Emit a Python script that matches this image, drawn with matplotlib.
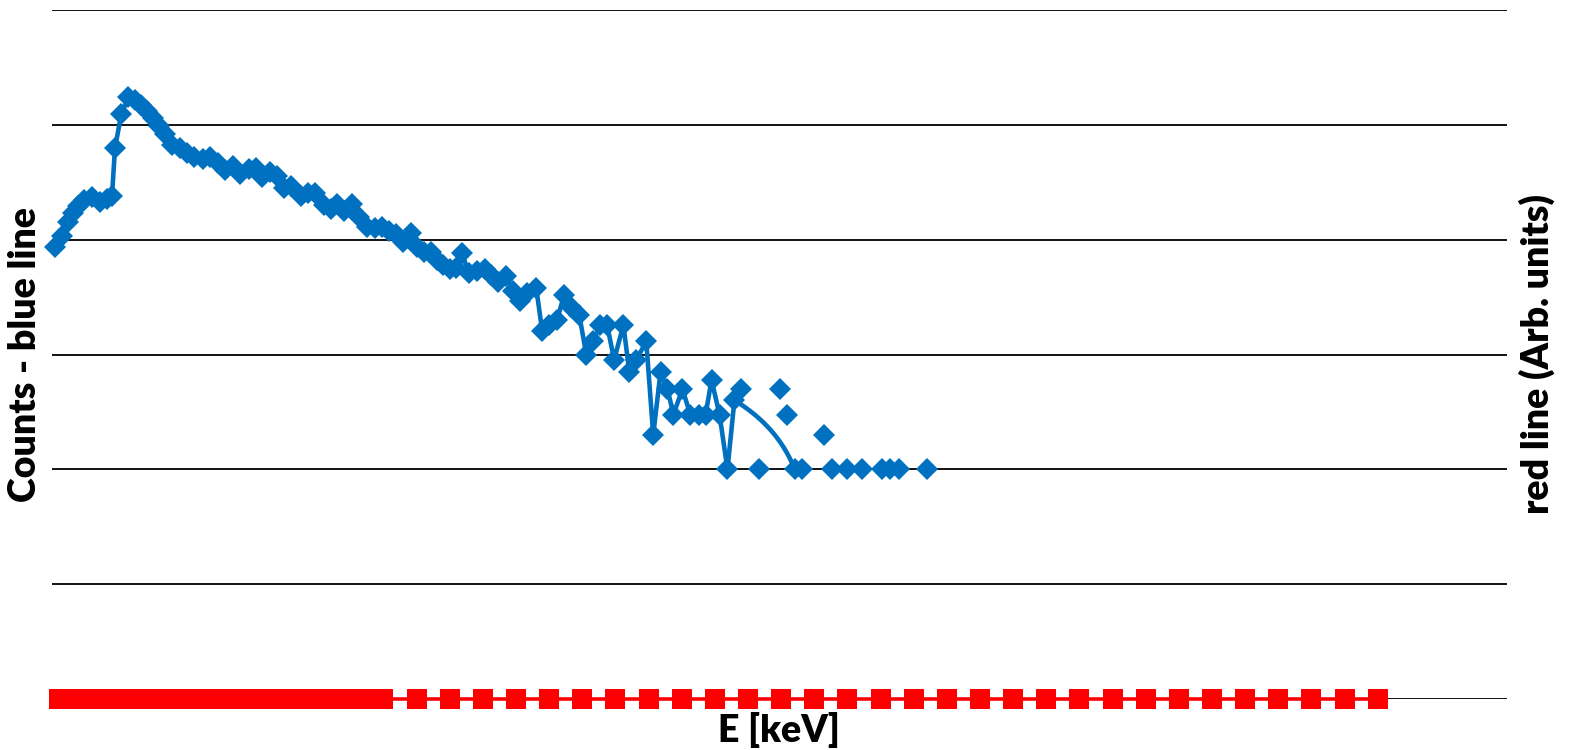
import numpy as np
import matplotlib
matplotlib.use('Agg')
import matplotlib.pyplot as plt
from matplotlib.path import Path

# blue series (counts, log axis) - connected part
e_blue = [0.09, 0.30, 0.48, 0.64, 0.79, 0.97, 1.21, 1.45, 1.66, 1.81,
          1.90, 2.09, 2.30, 2.51, 2.69, 2.87, 3.05, 3.24, 3.42, 3.63,
          3.87, 4.08, 4.29, 4.57, 4.78, 5.02, 5.23, 5.47, 5.68, 5.93,
          6.14, 6.35, 6.59, 6.80, 6.99, 7.20, 7.50, 7.71, 7.95, 8.20,
          8.41, 8.59, 8.80, 9.04, 9.25, 9.50, 9.74, 9.95, 10.16, 10.37,
          10.58, 10.83, 11.01, 11.22, 11.43, 11.61, 11.79, 12.00, 12.19, 12.37,
          12.58, 12.82, 13.06, 13.24, 13.46, 13.70, 13.91, 14.12, 14.33, 14.61,
          14.79, 15.00, 15.24, 15.45, 15.66, 15.91, 16.12, 16.33, 16.54, 16.75,
          16.96, 17.24, 17.42, 17.63, 17.93, 18.14, 18.36, 18.57, 18.75, 19.02,
          19.26, 19.53, 19.72, 19.90, 20.14, 20.38, 20.59]
counts_blue = [86, 107, 142, 170, 195, 220, 234, 212, 225, 239,
               625, 1237, 1740, 1638, 1482, 1313, 1141, 972, 828, 664,
               625, 566, 522, 501, 522, 463, 402, 436, 371, 410,
               419, 350, 387, 357, 280, 292, 239, 254, 254, 199,
               184, 203, 177, 203, 157, 128, 126, 128, 118, 111,
               95, 114, 86, 78, 78, 67, 60, 55, 57, 76,
               51, 53, 56, 49, 43, 48, 36, 29, 34, 38,
               16, 18, 20, 33, 26, 22, 10, 13, 18, 18,
               9, 18, 7, 9, 13, 2, 7, 5, 3, 5,
               3, 3, 3, 6, 3, 1, 4]

# segment drawn between the last connected point and the first zero-level point
e_curve = [20.59, 22.41]
counts_curve = [4, 1]

# blue points without connecting line
e_tail = [20.80, 21.32, 21.95, 22.17, 22.41, 22.62, 23.28, 23.53, 23.98,
          24.43, 25.04, 25.28, 25.55, 26.40]
counts_tail = [5, 1, 5, 3, 1, 1, 2, 1, 1, 1, 1, 1, 1, 1]

# red series (arb. units)
e_red = [0.2, 0.4, 0.6, 0.8, 1.0, 1.2, 1.4, 1.6, 1.8, 2.0,
         2.2, 2.4, 2.6, 2.8, 3.0, 3.2, 3.4, 3.6, 3.8, 4.0,
         4.2, 4.4, 4.6, 4.8, 5.0, 5.2, 5.4, 5.6, 5.8, 6.0,
         6.2, 6.4, 6.6, 6.8, 7.0, 7.2, 7.4, 7.6, 7.8, 8.0,
         8.2, 8.4, 8.6, 8.8, 9.0, 9.2, 9.4, 9.6, 9.8, 10.0,
         11, 12, 13, 14, 15, 16, 17, 18, 19, 20,
         21, 22, 23, 24, 25, 26, 27, 28, 29, 30,
         31, 32, 33, 34, 35, 36, 37, 38, 39, 40]
red_vals = [0.0] * len(e_red)

grid_levels = [1e-2, 1e-1, 1e0, 1e1, 1e2, 1e3, 1e4]

blue = '#0070C0'
red = '#FF0000'

plt.rcParams['font.family'] = ['Lato', 'DejaVu Sans']

fig = plt.figure(figsize=(15.7, 7.5), dpi=100)
ax = fig.add_axes([52/1570, 51/750, 1455/1570, 689/750])

ax.plot(e_blue, counts_blue, color=blue, linewidth=3.3, marker='D',
        markersize=11, markeredgewidth=0, clip_on=False, zorder=3)
seg = Path(np.column_stack([e_curve, counts_curve])).interpolated(60)
ax.plot(seg.vertices[:, 0], seg.vertices[:, 1], color=blue, linewidth=3.3, zorder=3)
ax.plot(e_tail, counts_tail, linestyle='none', marker='D', color=blue,
        markersize=11, markeredgewidth=0, zorder=3)

ax.set_yscale('log')
ax.set_ylim(1e-2, 1e4)
ax.set_xlim(0, 43.9)
ax.set_yticks(grid_levels)
ax.yaxis.set_minor_locator(matplotlib.ticker.NullLocator())
ax.set_xticks([])
ax.tick_params(axis='y', length=0, labelleft=False)
ax.grid(axis='y', color='black', linewidth=1.3)
ax.set_axisbelow(True)
for s in ax.spines.values():
    s.set_visible(False)

ax2 = ax.twinx()
ax2.plot(e_red, red_vals, color=red, linewidth=2.6, marker='s', markersize=14.5,
         markeredgewidth=0, clip_on=False)
ax2.set_ylim(0, 1)
ax2.set_yticks([])
for s in ax2.spines.values():
    s.set_visible(False)

lab = dict(fontsize=27, fontweight='heavy')
ax.set_xlabel('E [keV]', labelpad=9, **lab)
ax.set_ylabel('Counts - blue line', labelpad=7, **lab)
ax2.set_ylabel('red line (Arb. units)', labelpad=8, rotation=90, **lab)

fig.savefig('out.png', dpi=100)
